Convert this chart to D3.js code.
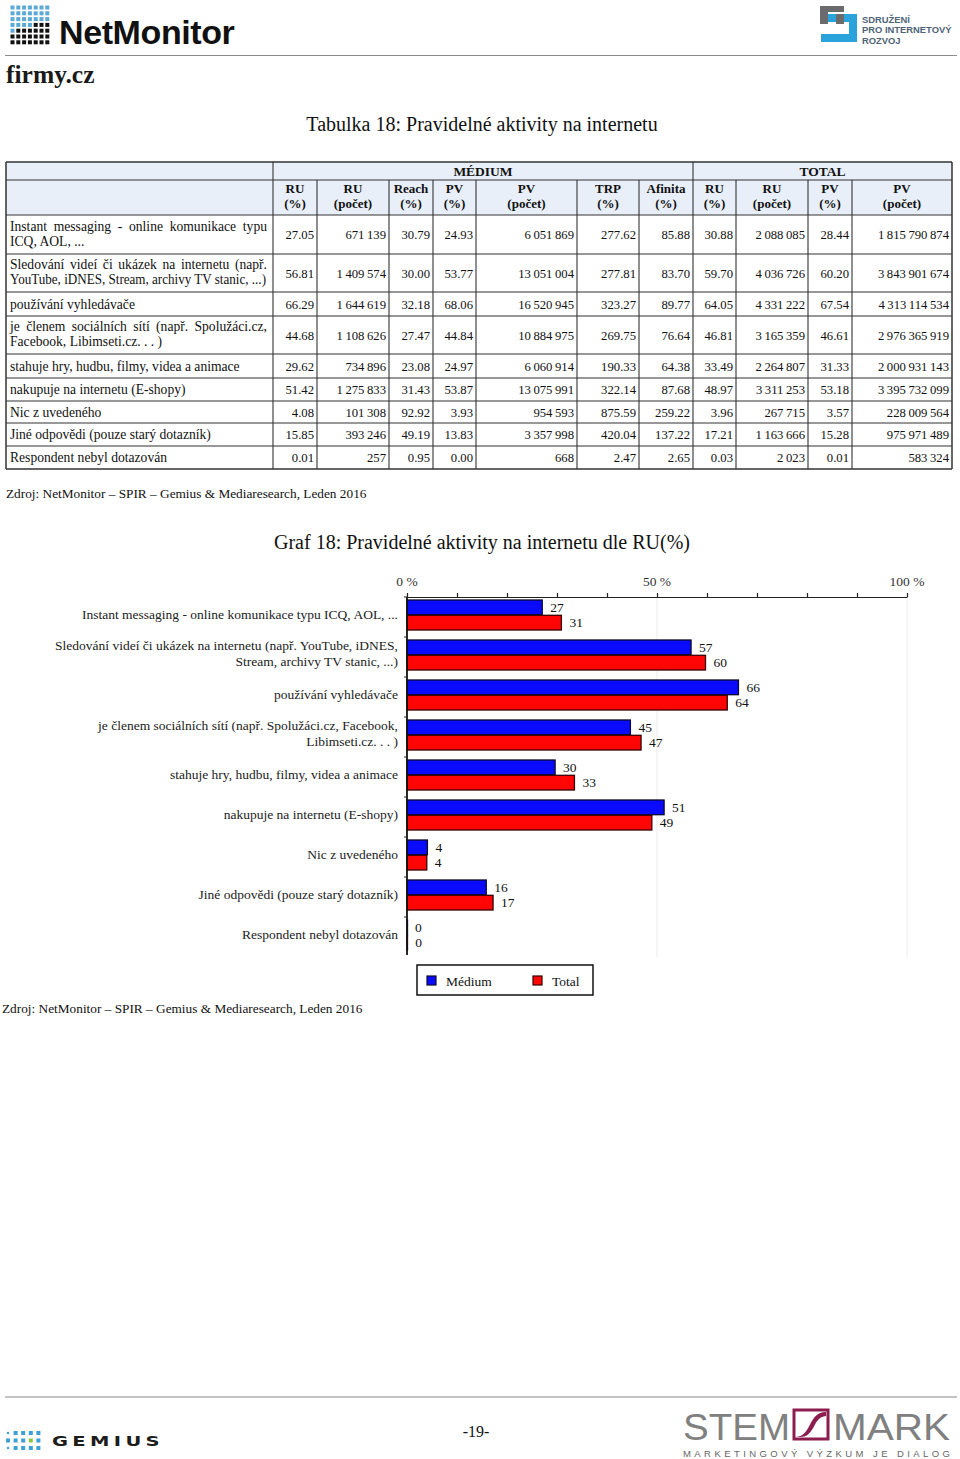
<!DOCTYPE html>
<html><head><meta charset="utf-8">
<script src="https://cdn.jsdelivr.net/npm/d3@7"></script>
<style>
body{margin:0;background:#fff}
svg{display:block}
text{font-family:"Liberation Serif","Times New Roman",serif;fill:#111}
</style>
</head><body>
<svg id="page" width="960" height="1459"></svg>
<script>
// ---------------- DATA ----------------
const tableCategories = [
  "Instant messaging - online komunikace typu\nICQ, AOL, ...",
  "Sledování videí či ukázek na internetu (např.\nYouTube, iDNES, Stream, archivy TV stanic, ...)",
  "používání vyhledávače",
  "je členem sociálních sítí (např. Spolužáci.cz,\nFacebook, Libimseti.cz. . . )",
  "stahuje hry, hudbu, filmy, videa a animace",
  "nakupuje na internetu (E-shopy)",
  "Nic z uvedeného",
  "Jiné odpovědi (pouze starý dotazník)",
  "Respondent nebyl dotazován"
];
const chartCategories = [
  "Instant messaging - online komunikace typu ICQ, AOL, ...",
  "Sledování videí či ukázek na internetu (např. YouTube, iDNES,\nStream, archivy TV stanic, ...)",
  "používání vyhledávače",
  "je členem sociálních sítí (např. Spolužáci.cz, Facebook,\nLibimseti.cz. . . )",
  "stahuje hry, hudbu, filmy, videa a animace",
  "nakupuje na internetu (E-shopy)",
  "Nic z uvedeného",
  "Jiné odpovědi (pouze starý dotazník)",
  "Respondent nebyl dotazován"
];
const groupHeaders = ["MÉDIUM", "TOTAL"];
const columnHeaders = ["RU\n(%)", "RU\n(počet)", "Reach\n(%)", "PV\n(%)", "PV\n(počet)", "TRP\n(%)", "Afinita\n(%)",
                       "RU\n(%)", "RU\n(počet)", "PV\n(%)", "PV\n(počet)"];
const mediumRuPct   = [27.05, 56.81, 66.29, 44.68, 29.62, 51.42, 4.08, 15.85, 0.01];
const mediumRuCount = [671139, 1409574, 1644619, 1108626, 734896, 1275833, 101308, 393246, 257];
const mediumReach   = [30.79, 30.00, 32.18, 27.47, 23.08, 31.43, 92.92, 49.19, 0.95];
const mediumPvPct   = [24.93, 53.77, 68.06, 44.84, 24.97, 53.87, 3.93, 13.83, 0.00];
const mediumPvCount = [6051869, 13051004, 16520945, 10884975, 6060914, 13075991, 954593, 3357998, 668];
const mediumTrp     = [277.62, 277.81, 323.27, 269.75, 190.33, 322.14, 875.59, 420.04, 2.47];
const mediumAfinita = [85.88, 83.70, 89.77, 76.64, 64.38, 87.68, 259.22, 137.22, 2.65];
const totalRuPct    = [30.88, 59.70, 64.05, 46.81, 33.49, 48.97, 3.96, 17.21, 0.03];
const totalRuCount  = [2088085, 4036726, 4331222, 3165359, 2264807, 3311253, 267715, 1163666, 2023];
const totalPvPct    = [28.44, 60.20, 67.54, 46.61, 31.33, 53.18, 3.57, 15.28, 0.01];
const totalPvCount  = [1815790874, 3843901674, 4313114534, 2976365919, 2000931143, 3395732099, 228009564, 975971489, 583324];
const seriesNames = ["Médium", "Total"];
const axisLabelTicks = [0, 50, 100];
const sourceText = "Zdroj: NetMonitor – SPIR – Gemius & Mediaresearch, Leden 2016";

// ---------------- SETUP ----------------
const svg = d3.select("#page");
svg.append("rect").attr("width", 960).attr("height", 1459).attr("fill", "#fff");
const loc = d3.formatLocale({decimal: ".", thousands: "\u2009", grouping: [3], currency: ["", ""]});
const fmtCount = loc.format(",d");
const fmtPct = d3.format(".2f");
const TXT = "13.6px";

// ---------------- HEADER LOGOS ----------------
const nm = svg.append("g");
for (let r = 0; r < 7; r++) {
  for (let c = 0; c < 7; c++) {
    const blue = r < 3 || (r === 3 && c < 4) || (r === 4 && c < 1);
    nm.append("rect").attr("x", 10.5 + c * 5.8).attr("y", 5.5 + r * 5.8)
      .attr("width", 4).attr("height", 4).attr("fill", blue ? "#5aa9d6" : "#111");
  }
}
nm.append("text").attr("x", 59).attr("y", 44).text("NetMonitor")
  .style("font-family", "'Liberation Sans',Arial,sans-serif").style("font-weight", "bold")
  .style("font-size", "34px").style("letter-spacing", "-0.4px").style("fill", "#111");

svg.append("line").attr("x1", 5).attr("x2", 957).attr("y1", 55.5).attr("y2", 55.5)
  .attr("stroke", "#8a8a8a").attr("stroke-width", 1.2);
svg.append("text").attr("x", 6).attr("y", 83).text("firmy.cz")
  .style("font-size", "25.5px").style("font-weight", "bold").style("fill", "#1a1a1a");

const sp = svg.append("g");
sp.append("path").attr("d", "M820,6 H844 V12 H828 V24 H820 Z").attr("fill", "#6b6b6d");
sp.append("path").attr("d", "M828,14 H857 V42 H821 V34 H849 V22 H828 Z").attr("fill", "#2aa3dc");
sp.append("rect").attr("x", 836).attr("y", 14).attr("width", 8).attr("height", 10).attr("fill", "#6b6b6d");
["SDRUŽENÍ", "PRO INTERNETOVÝ", "ROZVOJ"].forEach((t, i) => {
  sp.append("text").attr("x", 862).attr("y", 22.5 + i * 10.5).text(t)
    .style("font-family", "'Liberation Sans',Arial,sans-serif").style("font-weight", "bold")
    .style("font-size", "9.4px").style("fill", "#4f6478");
});

// ---------------- TABLE ----------------
svg.append("text").attr("x", 482).attr("y", 131).attr("text-anchor", "middle")
  .text("Tabulka 18: Pravidelné aktivity na internetu").style("font-size", "20px");

const colEdges = [6, 273, 317, 389, 433, 476, 577, 639, 693, 736, 808, 852, 952];
const rowEdges = [162, 180, 215, 254, 292, 316, 354, 378, 401, 423, 446, 469];
const tableCols = [
  {v: mediumRuPct, f: fmtPct}, {v: mediumRuCount, f: fmtCount}, {v: mediumReach, f: fmtPct},
  {v: mediumPvPct, f: fmtPct}, {v: mediumPvCount, f: fmtCount}, {v: mediumTrp, f: fmtPct},
  {v: mediumAfinita, f: fmtPct}, {v: totalRuPct, f: fmtPct}, {v: totalRuCount, f: fmtCount},
  {v: totalPvPct, f: fmtPct}, {v: totalPvCount, f: fmtCount}
];
const tbl = svg.append("g");
tbl.append("rect").attr("x", colEdges[0]).attr("y", rowEdges[0])
  .attr("width", colEdges[12] - colEdges[0]).attr("height", rowEdges[2] - rowEdges[0]).attr("fill", "#e8eff8");

[[1, 8], [8, 12]].forEach((span, i) => {
  tbl.append("text").attr("x", (colEdges[span[0]] + colEdges[span[1]]) / 2).attr("y", 175.5)
    .attr("text-anchor", "middle").text(groupHeaders[i]).style("font-size", "13.5px").style("font-weight", "bold");
});
columnHeaders.forEach((h, i) => {
  const cx = (colEdges[i + 1] + colEdges[i + 2]) / 2;
  h.split("\n").forEach((ln, j) => {
    tbl.append("text").attr("x", cx).attr("y", 192.5 + j * 15).attr("text-anchor", "middle")
      .text(ln).style("font-size", "13px").style("font-weight", "bold");
  });
});

function justified(g, str, x0, x1, y, size) {
  const words = str.split(" ");
  const widths = words.map(w => {
    const t = g.append("text").style("font-size", size).text(w);
    const wd = t.node().getComputedTextLength(); t.remove(); return wd;
  });
  const gap = (x1 - x0 - d3.sum(widths)) / (words.length - 1);
  let x = x0;
  words.forEach((w, i) => {
    g.append("text").attr("x", x).attr("y", y).text(w).style("font-size", size);
    x += widths[i] + gap;
  });
}
function fitted(g, str, x0, maxW, y, size) {
  const t = g.append("text").attr("x", x0).attr("y", y).text(str).style("font-size", size);
  if (t.node().getComputedTextLength() > maxW) t.attr("textLength", maxW).attr("lengthAdjust", "spacingAndGlyphs");
  return t;
}

tableCategories.forEach((cat, i) => {
  const y0 = rowEdges[i + 2], y1 = rowEdges[i + 3], cy = (y0 + y1) / 2;
  const lines = cat.split("\n");
  if (lines.length === 1) {
    fitted(tbl, lines[0], 10, 257, cy + 4.5, TXT);
  } else {
    justified(tbl, lines[0], 10, 267, cy - 4, TXT);
    fitted(tbl, lines[1], 10, 256, cy + 11, TXT);
  }
  tableCols.forEach((col, k) => {
    tbl.append("text").attr("x", colEdges[k + 2] - 3).attr("y", cy + 4.5).attr("text-anchor", "end")
      .text(col.f(col.v[i])).style("font-size", "12.7px");
  });
});

rowEdges.forEach(y => {
  tbl.append("line").attr("x1", colEdges[0]).attr("x2", colEdges[12]).attr("y1", y).attr("y2", y)
    .attr("stroke", "#333").attr("stroke-width", (y === rowEdges[0] || y === rowEdges[11]) ? 1.5 : 1.1);
});
colEdges.forEach((x, i) => {
  const full = [0, 1, 8, 12].includes(i);
  tbl.append("line").attr("x1", x).attr("x2", x).attr("y1", full ? rowEdges[0] : rowEdges[1]).attr("y2", rowEdges[11])
    .attr("stroke", "#333").attr("stroke-width", (i === 0 || i === 12) ? 1.5 : 1.1);
});

svg.append("text").attr("x", 6).attr("y", 498).text(sourceText).style("font-size", "13.3px");

// ---------------- CHART ----------------
svg.append("text").attr("x", 482).attr("y", 549).attr("text-anchor", "middle")
  .text("Graf 18: Pravidelné aktivity na internetu dle RU(%)").style("font-size", "20px");

const x = d3.scaleLinear().domain([0, 100]).range([407, 907]);
const y = d3.scaleBand().domain(chartCategories).range([597, 957]);
const sub = d3.scaleBand().domain(seriesNames).range([3, 33]).paddingInner(0.04);
const colors = {"Médium": "#0a0aff", "Total": "#ff0505"};
const strokes = {"Médium": "#0a0a30", "Total": "#3a0000"};
const chart = svg.append("g");

[50, 100].forEach(v => {
  chart.append("line").attr("x1", x(v)).attr("x2", x(v)).attr("y1", 597).attr("y2", 957)
    .attr("stroke", "#ececec").attr("stroke-width", 1);
});

const ax = chart.append("g").attr("transform", "translate(0,597)")
  .call(d3.axisTop(x).tickValues(d3.range(0, 101, 10)).tickSize(4).tickSizeOuter(0).tickFormat(""));
ax.selectAll("path,line").attr("stroke", "#222").attr("stroke-width", 1.2);
axisLabelTicks.forEach(v => {
  chart.append("text").attr("x", x(v)).attr("y", 585.5).attr("text-anchor", "middle")
    .text(v + " %").style("font-size", "13.5px").style("fill", "#333");
});

const series = [mediumRuPct, totalRuPct];
chartCategories.forEach((cat, i) => {
  seriesNames.forEach((s, k) => {
    const v = series[k][i];
    const by = y(cat) + sub(s);
    chart.append("rect").attr("x", x(0)).attr("y", by).attr("width", Math.max(x(v) - x(0), 0.5))
      .attr("height", sub.bandwidth()).attr("fill", colors[s]).attr("stroke", strokes[s]).attr("stroke-width", 1.3);
    chart.append("text").attr("x", x(v) + 8).attr("y", by + sub.bandwidth() / 2 + 4.5)
      .text(d3.format(".0f")(v)).style("font-size", "13.5px");
  });
});

chart.append("line").attr("x1", x(0)).attr("x2", x(0)).attr("y1", 597).attr("y2", 955)
  .attr("stroke", "#111").attr("stroke-width", 1.8);
chartCategories.forEach(cat => {
  chart.append("line").attr("x1", x(0) - 3).attr("x2", x(0)).attr("y1", y(cat)).attr("y2", y(cat))
    .attr("stroke", "#222").attr("stroke-width", 1);
});
chartCategories.forEach(cat => {
  const lines = cat.split("\n");
  lines.forEach((ln, j) => {
    const cy = lines.length === 1 ? y(cat) + 17 : y(cat) + 8.5 + j * 16;
    chart.append("text").attr("x", 398).attr("y", cy + 4.5).attr("text-anchor", "end")
      .text(ln).style("font-size", "13.5px").style("fill", "#222");
  });
});

const lg = chart.append("g");
lg.append("rect").attr("x", 417).attr("y", 965).attr("width", 176).attr("height", 30)
  .attr("fill", "#fff").attr("stroke", "#111").attr("stroke-width", 1.5);
seriesNames.forEach((s, k) => {
  const lx = 427 + k * 106;
  lg.append("rect").attr("x", lx).attr("y", 976).attr("width", 9).attr("height", 9)
    .attr("fill", colors[s]).attr("stroke", strokes[s]).attr("stroke-width", 1.2);
  lg.append("text").attr("x", lx + 19).attr("y", 985.5).text(s).style("font-size", "13.5px");
});

svg.append("text").attr("x", 2).attr("y", 1013).text(sourceText).style("font-size", "13.3px");

// ---------------- FOOTER ----------------
svg.append("line").attr("x1", 5).attr("x2", 957).attr("y1", 1397).attr("y2", 1397)
  .attr("stroke", "#8a8a8a").attr("stroke-width", 1.2);
const gm = svg.append("g");
for (let r = 0; r < 3; r++) {
  for (let c = 0; c < 5; c++) {
    if (c === 0 && r !== 1) { gm.append("circle").attr("cx", 8).attr("cy", 1433 + r * 7.5).attr("r", 1.2).attr("fill", "#3d9fd3"); continue; }
    gm.append("rect").attr("x", 6 + c * 7.6).attr("y", 1431 + r * 7.5).attr("width", 4).attr("height", 4)
      .attr("fill", (r === 1 && c === 3) ? "#8cc63f" : "#3d9fd3");
  }
}
gm.append("text").attr("x", 52).attr("y", 1446).text("GEMIUS").attr("textLength", 112).attr("lengthAdjust", "spacingAndGlyphs")
  .style("font-family", "'DejaVu Sans',sans-serif").style("font-weight", "bold").style("letter-spacing", "3px")
  .style("font-size", "13.5px").style("fill", "#1d1d1b");

svg.append("text").attr("x", 476).attr("y", 1437).attr("text-anchor", "middle").text("-19-").style("font-size", "16px");

const sm = svg.append("g");
sm.append("text").attr("x", 683).attr("y", 1440).text("STEM").attr("textLength", 107).attr("lengthAdjust", "spacingAndGlyphs")
  .style("font-family", "'Liberation Sans Narrow','Liberation Sans',sans-serif").style("font-size", "36px").style("fill", "#808080");
sm.append("text").attr("x", 833).attr("y", 1440).text("MARK").attr("textLength", 117).attr("lengthAdjust", "spacingAndGlyphs")
  .style("font-family", "'Liberation Sans Narrow','Liberation Sans',sans-serif").style("font-size", "36px").style("fill", "#808080");
sm.append("rect").attr("x", 794).attr("y", 1410).attr("width", 34).attr("height", 29)
  .attr("fill", "#fff").attr("stroke", "#8c1d4f").attr("stroke-width", 3);
sm.append("path").attr("d", "M796,1437 C812,1436 808,1412 826,1412 L826,1416 C812,1417 816,1437 800,1437 Z").attr("fill", "#8c1d4f");
sm.append("text").attr("x", 683).attr("y", 1457).text("MARKETINGOVÝ VÝZKUM JE DIALOG")
  .attr("textLength", 267).attr("lengthAdjust", "spacing")
  .style("font-family", "'Liberation Sans',sans-serif").style("font-size", "9.5px").style("fill", "#666");
</script>
</body></html>
